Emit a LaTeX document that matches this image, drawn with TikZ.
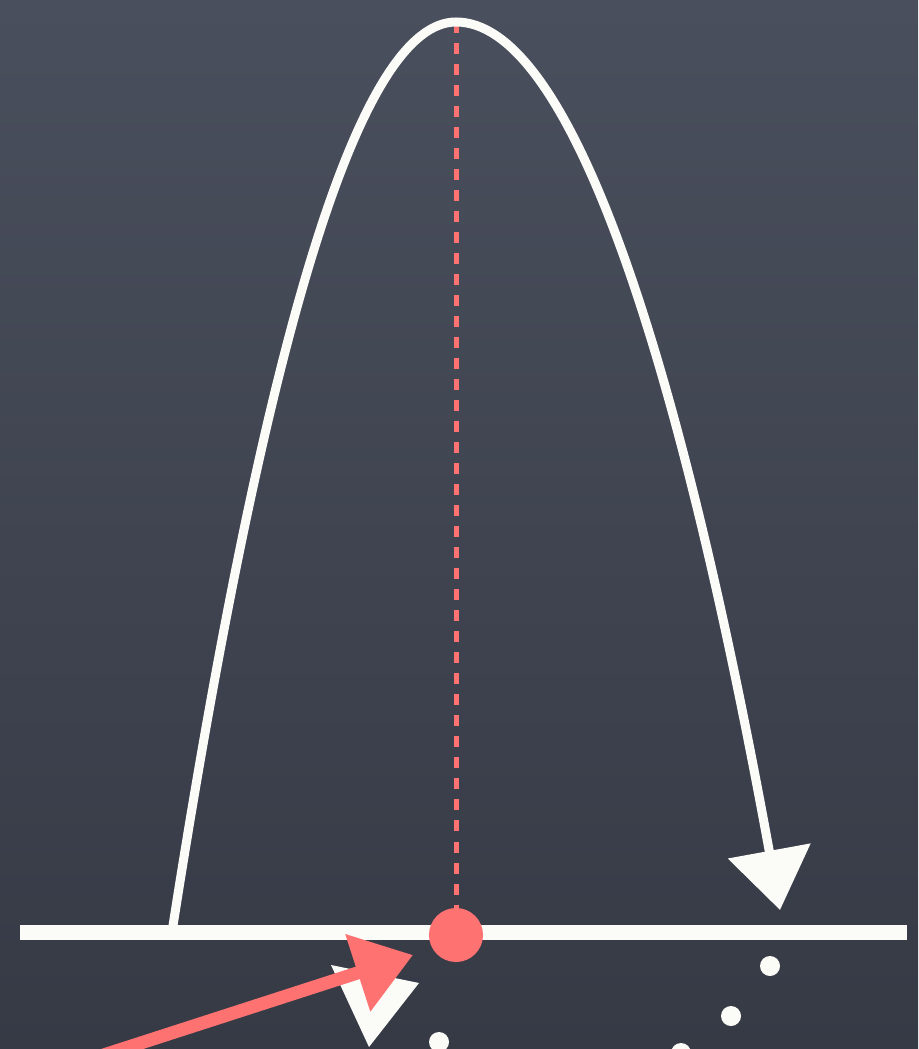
\documentclass[tikz,border=0pt]{standalone}
\usetikzlibrary{arrows.meta}
\definecolor{slate}{HTML}{4A4F5D}
\definecolor{slatedark}{HTML}{363A45}
\definecolor{chalk}{HTML}{FBFBF8}
\definecolor{salmon}{HTML}{FF7272}

\begin{document}
\begin{tikzpicture}[x=0.01cm, y=-0.01cm]
        \useasboundingbox (0,0) rectangle (918,1049);
        \shade[top color=slate, bottom color=slatedark] (0,0) rectangle (918,1049);
        \coordinate (ground west) at (20,932);
        \coordinate (ground east) at (907,932);
        \coordinate (launch) at (172,932);
        \coordinate (apex) at (456,22);
        \coordinate (land) at (780,910);
        \coordinate (tail) at (85,1061);
        \coordinate (tip) at (413,955);
        \draw[chalk, line width=0.15cm] (ground west) -- (ground east);
        \draw[salmon, line width=0.05cm, dash pattern=on 0.11cm off 0.10cm] (apex) -- (456,935);
        \node[circle, fill=salmon, inner sep=0pt, minimum size=0.54cm] (dot) at (456,935) {};
        \draw[chalk, line width=0.09cm, -{Triangle[length=0.6cm, width=0.82cm]}]
          (launch) .. controls (267,325) and (361,22) .. (apex)
                   .. controls (564,22) and (672,318) .. (land);
        \fill[chalk] (331,965) -- (419,983) -- (369,1047) -- cycle;
        \draw[salmon, line width=0.13cm, -{Triangle[length=0.58cm, width=0.78cm]}] (tail) -- (tip);
        \foreach \x/\y in {770/966, 731/1016, 439/1042, 681/1053}
          \fill[chalk] (\x,\y) circle[radius=0.1cm];
      \end{tikzpicture}
\end{document}
